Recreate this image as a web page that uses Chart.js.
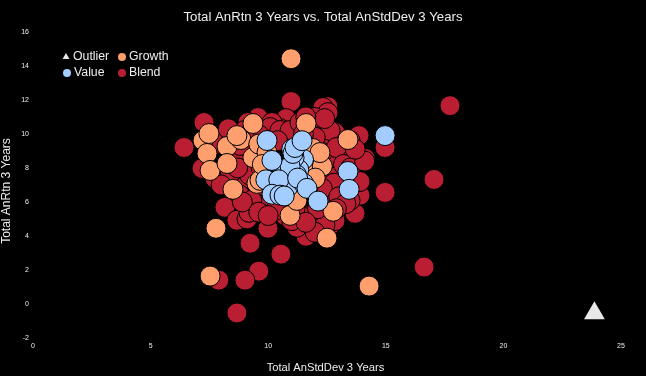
<!DOCTYPE html>
<html>
<head>
<meta charset="utf-8">
<style>
html, body { margin: 0; padding: 0; background: #000; }
canvas { display: block; }
</style>
<script src="https://cdn.jsdelivr.net/npm/chart.js@4"></script>
</head>
<body>
<canvas id="riesgo" width="646" height="376"></canvas>
<script>
const chartTitle = 'Total AnRtn 3 Years vs. Total AnStdDev 3 Years';
const xTitle = 'Total AnStdDev 3 Years';
const yTitle = 'Total AnRtn 3 Years';

const outlierPts = [[23.87, -0.55]];

const valuePts = [
    [11.5, 8.5], [10.7, 7.7], [11.3, 7.9], [11.2, 7.6], [10.85, 6.9], [11.5, 7.1], [10.35, 7.0],
    [10.3, 6.6], [11.1, 8.6], [10.93, 8.1], [11.0, 9.1], [11.05, 8.85], [11.14, 9.2],
    [11.44, 9.6], [9.95, 9.61], [10.16, 8.44], [9.9, 7.3], [10.45, 7.3], [11.25, 7.4],
    [10.16, 6.45], [10.5, 6.4], [10.68, 6.35], [11.65, 6.8], [12.12, 6.05], [13.39, 7.79],
    [13.44, 6.74], [14.97, 9.9]
];

const growthPts = [
    [10.97, 14.42], [7.78, 4.45], [7.53, 1.64], [14.29, 1.05], [12.5, 3.87], [12.76, 5.45],
    [10.93, 5.21], [8.5, 6.74], [7.23, 9.61], [7.48, 10.02], [7.4, 8.85], [7.53, 7.85],
    [8.25, 9.26], [8.25, 8.26], [8.84, 9.67], [8.67, 9.9], [9.35, 8.61], [9.35, 10.61],
    [11.61, 10.61], [13.39, 9.67], [11.9, 9.14], [12.07, 8.44], [11.9, 7.56], [9.52, 7.09],
    [9.65, 7.27], [11.22, 6.09], [9.6, 9.4], [9.95, 8.9], [12.0, 8.1], [11.7, 6.9],
    [12.3, 8.1], [12.0, 7.4], [12.2, 8.9], [9.75, 8.2]
];

const blendPts = [
    [6.42, 9.2], [7.27, 10.67], [10.97, 11.9], [17.73, 11.66], [17.05, 7.32], [14.97, 6.56],
    [14.97, 9.2], [16.63, 2.17], [10.54, 2.93], [9.6, 1.93], [9.01, 1.4], [7.9, 1.4],
    [8.67, -0.53], [9.23, 3.57], [9.99, 4.45], [8.16, 5.68], [8.67, 4.92], [9.1, 5.0],
    [9.18, 5.39], [11.61, 3.98], [11.95, 4.51], [11.22, 4.51], [12.63, 4.63], [13.69, 5.33],
    [12.54, 11.6], [12.33, 11.55], [12.54, 11.25], [10.76, 10.9], [12.84, 10.08], [13.86, 9.9],
    [12.2, 10.49], [10.5, 10.31], [12.29, 9.43], [13.18, 8.61], [13.48, 8.56], [13.99, 8.56],
    [14.12, 8.56], [9.57, 10.96], [9.14, 10.67], [10.16, 10.67], [8.16, 9.79], [7.19, 7.97],
    [7.74, 7.38], [8.89, 8.56], [9.1, 7.85], [8.72, 6.97], [10.08, 10.37], [10.5, 10.2],
    [7.95, 9.43], [8.46, 9.9], [8.8, 9.32], [9.65, 9.9], [10.93, 10.2], [11.35, 10.67],
    [11.78, 10.2], [11.99, 10.96], [12.63, 10.2], [13.27, 9.32], [13.48, 9.61], [13.05, 7.85],
    [13.27, 7.27], [13.69, 6.97], [13.9, 6.39], [13.27, 6.68], [13.05, 5.8], [13.48, 6.09],
    [12.63, 6.39], [12.2, 6.09], [12.41, 5.21], [11.78, 5.21], [11.35, 5.21], [12.84, 4.9],
    [12.41, 4.63], [11.99, 4.22], [11.14, 5.6], [10.71, 5.21], [10.5, 5.8], [9.65, 5.9],
    [8.8, 6.4], [9.3, 6.1], [9.2, 7.6], [8.4, 7.7], [9.7, 8.0], [8.7, 8.0],
    [12.6, 7.6], [12.7, 8.6], [12.3, 8.9], [12.9, 9.2], [13.2, 8.2], [12.8, 7.1],
    [12.3, 6.8], [13.5, 8.0], [12.0, 9.8], [11.5, 10.0], [9.9, 6.9], [10.4, 9.6],
    [13.0, 6.3], [13.3, 5.9], [12.1, 5.6], [10.3, 5.5],
    [8.0, 7.0], [8.9, 6.0], [9.6, 5.4], [10.0, 5.2], [11.0, 4.9], [11.6, 4.8],
    [12.9, 5.6], [13.9, 7.2], [14.1, 8.4], [13.7, 9.1], [12.4, 10.9], [11.6, 11.0],
    [9.0, 10.2], [8.3, 10.3]
];

const seriesNames = ['Outlier', 'Value', 'Growth', 'Blend'];
const seriesColors = ['#e8e8e8', '#a3ccff', '#ff9f6e', '#b91e32'];
const seriesPts = [outlierPts, valuePts, growthPts, blendPts];

const legendOrder = [
    { index: 0, x: 66, y: 57 },
    { index: 2, x: 122, y: 57 },
    { index: 1, x: 67, y: 73 },
    { index: 3, x: 122, y: 73 }
];

// leyenda dentro del area y titulos de ejes, el original los coloca a mano
const leyenda = {
    id: 'leyenda',
    afterDraw(chart) {
        const c = chart.ctx;
        c.save();
        c.font = '12.3px "Liberation Sans"';
        c.textBaseline = 'middle';
        legendOrder.forEach(item => {
            const i = item.index;
            c.fillStyle = seriesColors[i];
            c.strokeStyle = seriesColors[i];
            Chart.helpers.drawPoint(c, { pointStyle: i === 0 ? 'triangle' : 'circle', radius: 4, borderWidth: 0 }, item.x, item.y);
            c.fillStyle = '#eeeeee';
            c.fillText(seriesNames[i], item.x + 7, item.y);
        });
        c.textAlign = 'center';
        c.font = '11.2px "Liberation Sans"';
        c.fillText(xTitle, 325.5, 368);
        c.translate(7, 191);
        c.rotate(-Math.PI / 2);
        c.font = '12px "Liberation Sans"';
        c.fillText(yTitle, 0, 0);
        c.restore();
    }
};

const ctx = document.getElementById('riesgo');

new Chart(ctx, {
    type: 'scatter',
    data: {
        datasets: seriesNames.map((name, i) => ({
            label: name,
            data: seriesPts[i].map(p => ({ x: p[0], y: p[1] })),
            backgroundColor: seriesColors[i],
            borderColor: i === 0 ? seriesColors[i] : '#000000',
            borderWidth: i === 0 ? 0 : 1,
            pointStyle: i === 0 ? 'triangle' : 'circle',
            pointRadius: i === 0 ? 12 : 10
        }))
    },
    options: {
        responsive: false,
        animation: false,
        plugins: {
            legend: { display: false },
            tooltip: { enabled: false },
            title: {
                display: true,
                text: chartTitle,
                color: '#eeeeee',
                font: { family: '"Liberation Sans"', size: 13.2, weight: 'normal' },
                padding: { top: 9, bottom: 7 }
            }
        },
        scales: {
            x: {
                min: 0, max: 25,
                afterFit(s) { s.height = 38; s.paddingRight = 25; s.paddingLeft = 0; },
                grid: { display: false },
                border: { display: false },
                ticks: { stepSize: 5, color: '#eeeeee', padding: -4, maxRotation: 0, font: { family: '"Liberation Sans"', size: 7 } }
            },
            y: {
                min: -2, max: 16,
                afterFit(s) { s.width = 33; },
                grid: { display: false },
                border: { display: false },
                ticks: { stepSize: 2, color: '#eeeeee', padding: -4, font: { family: '"Liberation Sans"', size: 7 } }
            }
        }
    },
    plugins: [leyenda]
});
</script>
</body>
</html>
